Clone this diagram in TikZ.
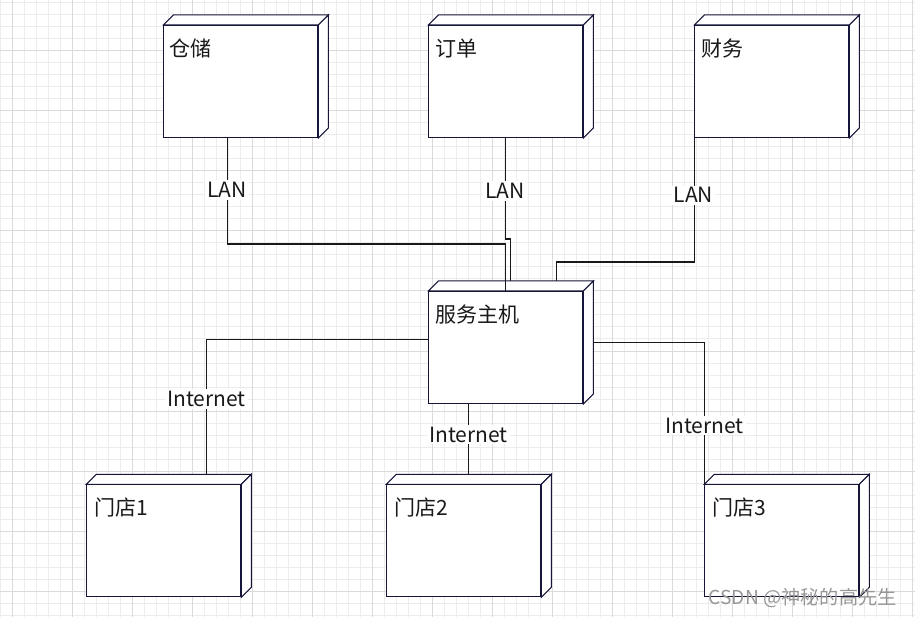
\documentclass[tikz,border=0pt]{standalone}
\usepackage{fontspec}
\setmainfont{Noto Sans CJK SC}
\usetikzlibrary{calc}
\definecolor{gridminor}{RGB}{236,236,236}
\definecolor{gridmajor}{RGB}{218,218,218}
\definecolor{boxline}{RGB}{22,22,58}
\definecolor{wm}{RGB}{150,150,150}
\tikzset{
  umlbox/.style={draw=boxline, line width=1pt, fill=white, minimum width=154pt, minimum height=112pt, anchor=north west, inner sep=0pt},
  face/.style={draw=boxline, line width=1pt, fill=white, line join=miter},
  conn/.style={draw=black!90, line width=1.1pt},
  lbl/.style={fill=white, inner sep=2pt, font=\fontsize{21}{24}\selectfont, text=black!90},
  boxtext/.style={anchor=west, font=\fontsize{21}{24}\selectfont, text=black!90, inner sep=0pt}
}
\begin{document}
\begin{tikzpicture}[x=1pt,y=-1pt]
\useasboundingbox (0,0) rectangle (915,617);
\fill[white] (0,0) rectangle (915,617);
% grid
\foreach \x in {0,12,...,912} \draw[gridminor, line width=1pt] (\x,0) -- (\x,617);
\foreach \y in {3,15,...,615} \draw[gridminor, line width=1pt] (0,\y) -- (915,\y);
\foreach \x in {12,72,...,912} \draw[gridmajor, line width=1pt] (\x,0) -- (\x,617);
\foreach \y in {51,111,...,591} \draw[gridmajor, line width=1pt] (0,\y) -- (915,\y);

% nodes (front faces)
\node[umlbox] (cc)  at (163.3,25)  {};
\node[umlbox] (dd)  at (428.3,25)  {};
\node[umlbox] (cw)  at (694.3,25)  {};
\node[umlbox] (srv) at (428.3,291) {};
\node[umlbox] (md1) at (86.3,484.3) {};
\node[umlbox] (md2) at (386.3,484.3) {};
\node[umlbox] (md3) at (704.3,484.3) {};

% 3D faces
\foreach \n in {cc,dd,cw,srv,md1,md2,md3} {
  \draw[face] (\n.north west) -- ++(10,-10) -- ($(\n.north east)+(10,-10)$) -- (\n.north east) -- cycle;
  \draw[face] (\n.north east) -- ($(\n.north east)+(10,-10)$) -- ($(\n.south east)+(10,-10)$) -- (\n.south east) -- cycle;
}

% box texts
\node[boxtext] (tcc)  at ($(cc.north west)+(6,23.5)$)  {仓储};
\node[boxtext] (tdd)  at ($(dd.north west)+(7,23.5)$)  {订单};
\node[boxtext] (tcw)  at ($(cw.north west)+(7,23.5)$)  {财务};
\node[boxtext] (tsrv) at ($(srv.north west)+(7,23.5)$) {服务主机};
\node[boxtext] (tmd1) at ($(md1.north west)+(8,23.5)$) {门店1};
\node[boxtext] (tmd2) at ($(md2.north west)+(8,23.5)$) {门店2};
\node[boxtext] (tmd3) at ($(md3.north west)+(8,23.5)$) {门店3};

% connectors
\draw[conn] ($(cc.south west)+(64.2,0)$) |- ($(srv.north west)+(77.2,-47)$) -- ($(srv.north west)+(77.2,0)$);
\draw[conn] ($(dd.south west)+(77,0)$) -- ++(0,101) -- ++(5.2,0) -- ($(srv.north west)+(82.2,-10)$);
\draw[conn] (cw.south west) |- ($(srv.north west)+(128,-29)$) -- ($(srv.north west)+(128,-10)$);
\draw[conn] ($(srv.north west)+(0,48.5)$) -| ($(md1.north west)+(120.2,-10)$);
\draw[conn] ($(srv.south west)+(40.2,0)$) -- ($(md2.north west)+(82.2,-10)$);
\draw[conn] ($(srv.north east)+(10,51.3)$) -| (md3.north west);

% connector labels
\node[lbl] (lan1) at (226.8,190) {LAN};
\node[lbl] (lan2) at (505,191) {LAN};
\node[lbl] (lan3) at (693.3,195.3) {LAN};
\node[lbl] (int1) at (206.3,399) {Internet};
\node[lbl] (int2) at (468.3,434.5) {Internet};
\node[lbl] (int3) at (704.3,425.5) {Internet};

% watermark
\node[anchor=west, inner sep=0pt, text=wm, font=\fontsize{19.2}{22}\selectfont] (wmk) at (708.5,598) {CSDN @神秘的高先生};
\end{tikzpicture}
\end{document}
